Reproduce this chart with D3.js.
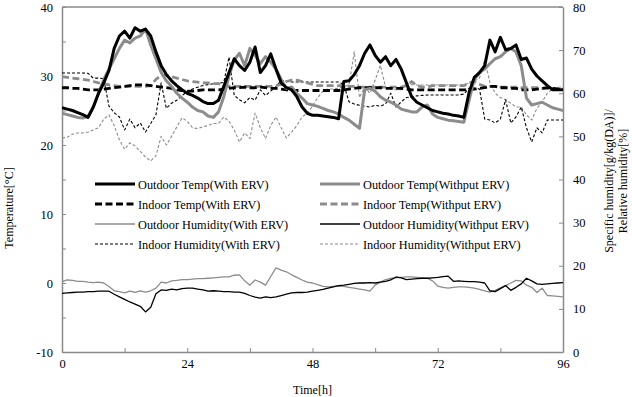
<!DOCTYPE html>
<html>
<head>
<meta charset="utf-8">
<script src="https://cdn.jsdelivr.net/npm/d3@7"></script>
<style>
  body { margin: 0; background: #fff; }
  svg text { fill: #000; }
</style>
</head>
<body>
<script>
// hourly readings, 0..96 h
const hours = d3.range(0, 97);

// temperatures [°C] (left axis)
const outdoorTempWith = [
  25.4, 25.2, 25.0, 24.7, 24.4, 24.0, 25.5, 27.5, 29.0, 30.8,
  34.0, 35.8, 36.5, 35.5, 37.0, 36.5, 36.8, 35.8, 33.5, 31.5,
  30.2, 29.3, 28.6, 28.0, 27.5, 27.2, 26.8, 26.3, 26.0, 26.0,
  26.5, 28.5, 30.5, 32.5, 31.5, 30.8, 32.0, 34.2, 30.5, 31.5,
  33.2, 31.0, 29.0, 28.3, 28.0, 27.0, 25.5, 24.6, 24.3, 24.3,
  24.2, 24.1, 24.0, 23.8, 29.2, 29.3, 30.2, 31.5, 33.3, 34.5,
  33.0, 32.0, 32.8, 31.5, 32.4, 31.0, 29.0, 27.0, 26.2, 25.8,
  25.4, 25.0, 24.8, 24.6, 24.5, 24.3, 24.2, 24.0, 27.6, 29.8,
  30.5, 31.5, 35.2, 33.5, 35.6, 33.8, 34.0, 34.5, 32.4, 32.6,
  31.0, 30.0, 29.3, 28.6, 28.0, 28.0, 28.0
];
const outdoorTempWithout = [
  24.6, 24.4, 24.2, 24.0, 23.9, 24.2, 25.5, 27.5, 29.5, 31.0,
  32.5, 34.0, 35.2, 34.8, 35.5, 35.8, 36.8, 34.5, 32.5, 30.5,
  29.3, 28.5, 27.5, 26.8, 26.2, 25.5, 25.0, 24.8, 24.2, 24.0,
  24.8, 27.0, 30.0, 32.3, 33.3, 31.5, 34.0, 33.0, 31.8, 32.8,
  32.0, 31.0, 29.5, 28.2, 28.4, 27.5, 26.8, 26.0, 25.8, 25.6,
  25.3, 25.0, 24.8, 24.5, 24.0, 23.6, 23.0, 22.4, 28.0, 28.2,
  27.8, 27.0, 26.5, 26.2, 25.8, 25.2, 25.0, 24.8, 24.8, 25.5,
  25.8, 24.5, 24.0, 23.8, 23.6, 23.5, 23.4, 23.3, 26.5, 29.5,
  30.5, 31.0, 31.8, 32.5, 32.8, 33.5, 34.0, 33.5, 31.5, 26.8,
  25.8, 26.0, 26.2, 25.8, 25.4, 25.2, 25.0
];
const indoorTempWith = [
  28.3, 28.3, 28.2, 28.2, 28.1, 28.0, 28.0, 28.0, 28.1, 28.2,
  28.3, 28.4, 28.5, 28.6, 28.7, 28.7, 28.7, 28.6, 28.5, 28.4,
  28.3, 28.2, 28.0, 27.9, 27.8, 27.8, 27.9, 28.0, 28.0, 28.0,
  28.0, 28.1, 28.2, 28.3, 28.3, 28.4, 28.3, 28.3, 28.4, 28.3,
  28.2, 28.2, 28.1, 28.0, 27.9, 27.9, 27.9, 27.9, 27.9, 27.9,
  27.9, 27.9, 27.9, 27.9, 28.0, 28.1, 28.2, 28.3, 28.3, 28.3,
  28.3, 28.3, 28.2, 28.2, 28.2, 28.2, 28.1, 28.0, 28.0, 28.0,
  28.0, 28.0, 28.0, 28.0, 28.0, 28.0, 28.0, 28.0, 28.0, 28.1,
  28.2, 28.3, 28.5, 28.5, 28.3, 28.3, 28.2, 28.2, 28.0, 28.0,
  28.0, 28.1, 28.2, 28.3, 28.2, 28.1, 28.0
];
const indoorTempWithout = [
  29.9, 29.8, 29.7, 29.6, 29.5, 29.4, 29.2, 29.0, 28.9, 28.7,
  28.6, 28.5, 28.5, 28.5, 28.5, 28.5, 28.5, 28.6, 29.5, 30.1,
  30.1, 29.9, 29.7, 29.5, 29.3, 29.2, 29.1, 29.0, 29.0, 28.9,
  28.9, 28.7, 28.5, 28.5, 28.5, 28.5, 28.5, 28.5, 28.5, 28.5,
  28.5, 28.6, 28.8, 29.2, 29.4, 29.4, 29.2, 29.0, 28.8, 28.6,
  28.6, 28.6, 28.6, 28.6, 28.6, 28.5, 28.5, 28.4, 28.4, 28.4,
  28.4, 28.4, 28.4, 28.4, 28.4, 28.4, 28.6, 29.2, 28.6, 28.4,
  28.4, 28.6, 28.6, 28.6, 28.6, 28.6, 28.6, 28.6, 29.0, 29.2,
  28.8, 28.5, 28.5, 28.5, 28.4, 28.4, 28.4, 28.4, 28.3, 28.3,
  28.3, 28.3, 28.2, 28.2, 28.2, 28.2, 28.2
];

// outdoor specific humidity [g/kg(DA)] (right axis)
const outdoorHumWith = [
  16.3, 16.7, 16.6, 16.4, 16.4, 16.2, 16.1, 16.2, 16.0, 15.2,
  14.2, 14.0, 13.7, 14.1, 13.8, 14.2, 13.9, 14.2, 14.8, 16.2,
  16.0, 16.5, 16.6, 16.8, 16.8, 16.9, 17.0, 17.0, 17.1, 17.2,
  17.3, 17.4, 17.4, 17.8, 17.9, 16.5, 15.5, 16.7, 16.2, 15.5,
  17.5, 19.5, 19.0, 18.6, 17.9, 17.3, 16.7, 16.2, 16.0, 15.6,
  15.2, 15.1, 15.2, 15.3, 15.2, 15.0, 14.8, 14.6, 14.4, 14.1,
  15.5, 16.2, 16.8, 17.1, 17.2, 17.3, 17.4, 17.4, 17.3, 17.2,
  17.1, 16.5, 15.3, 15.0, 14.8, 15.0, 15.1, 15.1, 15.0, 14.8,
  14.5, 14.2, 13.9, 14.3, 14.9, 15.4, 16.0, 16.6, 16.5, 15.5,
  15.0, 13.8, 14.8, 13.1, 13.0, 12.9, 12.8
];
const outdoorHumWithout = [
  13.6, 13.7, 13.8, 13.9, 13.9, 14.0, 14.0, 14.1, 14.1, 14.1,
  13.4, 12.8, 12.2, 11.6, 11.1, 10.6, 9.3, 10.4, 13.5, 14.4,
  14.3, 14.6, 14.4, 14.7, 14.8, 14.8, 14.6, 14.4, 14.1, 14.2,
  14.1, 14.0, 14.0, 13.9, 13.9, 13.6, 13.1, 12.7, 12.5, 12.8,
  12.6, 12.8, 13.1, 13.4, 13.7, 13.8, 13.8, 13.9, 14.1, 14.3,
  14.5, 14.8, 15.1, 15.4, 15.5, 15.7, 15.9, 16.0, 16.0, 16.1,
  16.0, 16.2, 16.4, 16.7, 17.4, 17.2, 16.8, 16.9, 17.0, 17.1,
  17.1, 17.2, 17.3, 17.5, 17.6, 16.4, 16.5, 16.4, 16.3, 16.3,
  16.2, 16.0, 14.2, 14.0, 14.7, 15.4, 14.3, 15.0, 15.8, 17.1,
  16.5, 15.8, 15.7, 15.8, 15.9, 16.0, 16.1
];

// indoor relative humidity [%] (right axis)
const indoorHumWith = [
  64.7, 64.7, 64.7, 64.7, 64.7, 64.6, 63.5, 63.5, 63.4, 57.0,
  55.5, 54.5, 51.5, 54.0, 52.0, 53.1, 51.0, 53.0, 55.0, 62.4,
  56.5, 57.7, 58.4, 59.5, 60.3, 61.0, 61.4, 61.8, 62.0, 62.2,
  62.3, 62.5, 68.4, 59.5, 58.5, 57.8, 59.0, 58.4, 60.8, 59.5,
  60.5, 61.5, 63.0, 62.8, 62.6, 62.6, 62.6, 62.6, 62.6, 62.6,
  62.6, 62.6, 62.6, 62.6, 62.0, 58.0, 57.5, 57.2, 57.0, 56.8,
  57.2, 57.0, 57.5, 60.0, 56.8, 58.0, 59.0, 59.2, 59.4, 59.5,
  59.6, 59.6, 59.6, 59.6, 59.6, 59.6, 59.6, 59.8, 61.2, 61.2,
  61.0, 54.0, 53.8, 53.1, 54.0, 58.5, 53.1, 54.5, 56.8, 52.0,
  48.7, 52.0, 50.8, 53.8, 53.8, 53.8, 53.8
];
const indoorHumWithout = [
  49.6, 49.8, 50.5, 50.8, 50.8, 51.0, 51.5, 52.0, 54.0, 55.0,
  52.5, 49.2, 47.0, 48.5, 47.8, 46.5, 45.2, 44.3, 45.5, 50.0,
  48.0, 50.0, 52.2, 54.3, 53.5, 52.0, 51.8, 52.2, 52.5, 53.0,
  53.0, 54.5, 53.5, 51.5, 48.7, 50.8, 49.5, 55.4, 52.0, 49.5,
  52.5, 54.5, 52.0, 49.6, 51.0, 52.5, 54.5, 55.4, 57.0, 59.0,
  60.5, 61.0, 61.0, 61.2, 61.5, 62.0, 69.6, 59.0, 61.4, 60.0,
  63.0, 66.5, 61.4, 61.0, 60.8, 60.8, 62.4, 62.0, 61.9, 61.9,
  61.9, 61.9, 61.9, 61.9, 61.9, 61.9, 61.9, 61.9, 62.4, 62.8,
  63.5, 67.7, 62.5, 60.0, 59.0, 58.5, 57.7, 56.8, 56.8, 55.0,
  53.8, 56.5, 58.0, 60.0, 61.0, 61.4, 61.4
];

const xTicks = [0, 24, 48, 72, 96];
const leftTicks = [-10, 0, 10, 20, 30, 40];
const rightTicks = [0, 10, 20, 30, 40, 50, 60, 70, 80];

const FONT = "Liberation Serif";
const W = 632, H = 397;
const margin = {top: 7, right: 69, bottom: 45, left: 62};
const width = W - margin.left - margin.right,
      height = H - margin.top - margin.bottom;

const svg = d3.select("body").append("svg")
  .attr("width", W).attr("height", H)
  .attr("font-family", FONT);

const g = svg.append("g")
  .attr("transform", "translate(" + margin.left + "," + margin.top + ")");

const x = d3.scaleLinear().domain([0, 96]).range([0, width]);
const yT = d3.scaleLinear().domain([-10, 40]).range([height, 0]);
const yH = d3.scaleLinear().domain([0, 80]).range([height, 0]);

const axisColor = "#8a8a8a";

// frame (top line)
g.append("line")
  .attr("x1", 0).attr("x2", width).attr("y1", 0).attr("y2", 0)
  .attr("stroke", axisColor).attr("stroke-width", 1.5);

// axes, ticks pointing inward
const xAxis = g.append("g")
  .attr("transform", "translate(0," + height + ")")
  .call(d3.axisBottom(x).tickValues(d3.range(0, 97, 12)).tickSizeInner(-4).tickSizeOuter(0)
    .tickFormat(d => xTicks.includes(d) ? d : ""));
const yAxisL = g.append("g")
  .call(d3.axisLeft(yT).tickValues(d3.range(-10, 41, 5)).tickSizeInner(-4).tickSizeOuter(0)
    .tickFormat(d => leftTicks.includes(d) ? d : ""));
const yAxisR = g.append("g")
  .attr("transform", "translate(" + width + ",0)")
  .call(d3.axisRight(yH).tickValues(rightTicks).tickSizeInner(-4).tickSizeOuter(0));

[xAxis, yAxisL, yAxisR].forEach(a => {
  a.attr("font-family", FONT).attr("font-size", 12.5);
  a.select(".domain").attr("stroke", axisColor).attr("stroke-width", 1.5);
  a.selectAll(".tick line").attr("stroke", axisColor).attr("stroke-width", 1);
});
xAxis.selectAll("text").attr("y", 7);
yAxisL.selectAll("text").attr("x", -9);
yAxisR.selectAll("text").attr("x", 10);

// clip
g.append("clipPath").attr("id", "clip")
  .append("rect").attr("width", width).attr("height", height);
const plot = g.append("g").attr("clip-path", "url(#clip)");

const series = [
  {name: "Outdoor Temp(With ERV)", data: outdoorTempWith, y: yT, color: "#000", w: 3, dash: null},
  {name: "Outdoor Temp(Withput ERV)", data: outdoorTempWithout, y: yT, color: "#8c8c8c", w: 3, dash: null},
  {name: "Indoor Temp(With ERV)", data: indoorTempWith, y: yT, color: "#000", w: 2.8, dash: "7,3.5"},
  {name: "Indoor Temp(Withput ERV)", data: indoorTempWithout, y: yT, color: "#8c8c8c", w: 2.8, dash: "7,3.5"},
  {name: "Outdoor Humidity(With ERV)", data: outdoorHumWith, y: yH, color: "#8c8c8c", w: 1.3, dash: null},
  {name: "Outdoor Humidity(Withput ERV)", data: outdoorHumWithout, y: yH, color: "#000", w: 1.3, dash: null},
  {name: "Indoor Humidity(With ERV)", data: indoorHumWith, y: yH, color: "#000", w: 1.1, dash: "3,2"},
  {name: "Indoor Humidity(Withput ERV)", data: indoorHumWithout, y: yH, color: "#8c8c8c", w: 1.1, dash: "3,2"}
];

// drawing order: thin humidity lines first, then temperatures
const drawOrder = [7, 6, 4, 5, 3, 2, 1, 0];
drawOrder.forEach(i => {
  const s = series[i];
  const line = d3.line()
    .x((d, j) => x(hours[j]))
    .y(d => s.y(d));
  plot.append("path")
    .datum(s.data)
    .attr("fill", "none")
    .attr("stroke", s.color)
    .attr("stroke-width", s.w)
    .attr("stroke-dasharray", s.dash)
    .attr("stroke-linejoin", "round")
    .attr("d", line);
});

// legend, two columns
const legend = svg.append("g");
series.forEach((s, i) => {
  const col = i % 2, row = Math.floor(i / 2);
  const lx = col === 0 ? 95 : 320;
  const ly = 184 + row * 20;
  legend.append("line")
    .attr("x1", lx).attr("x2", lx + 40).attr("y1", ly).attr("y2", ly)
    .attr("stroke", s.color).attr("stroke-width", s.w)
    .attr("stroke-dasharray", s.dash);
  legend.append("text")
    .attr("x", lx + 43).attr("y", ly + 4.5)
    .attr("font-size", 12.3)
    .text(s.name);
});

// axis titles
svg.append("text")
  .attr("transform", "translate(13,208) rotate(-90)")
  .attr("text-anchor", "middle")
  .attr("font-size", 12)
  .text("Temperature[°C]");

svg.append("text")
  .attr("x", margin.left + width / 2).attr("y", 394)
  .attr("text-anchor", "middle")
  .attr("font-size", 12)
  .text("Time[h]");

const rt = svg.append("text")
  .attr("transform", "translate(613,181) rotate(-90)")
  .attr("text-anchor", "middle")
  .attr("font-size", 12);
rt.append("tspan").attr("x", 0).attr("dy", 0).text("Specific  humidity[g/kg(DA)]/");
rt.append("tspan").attr("x", 0).attr("dy", 14).text("Relative humidity[%]");
</script>
</body>
</html>
